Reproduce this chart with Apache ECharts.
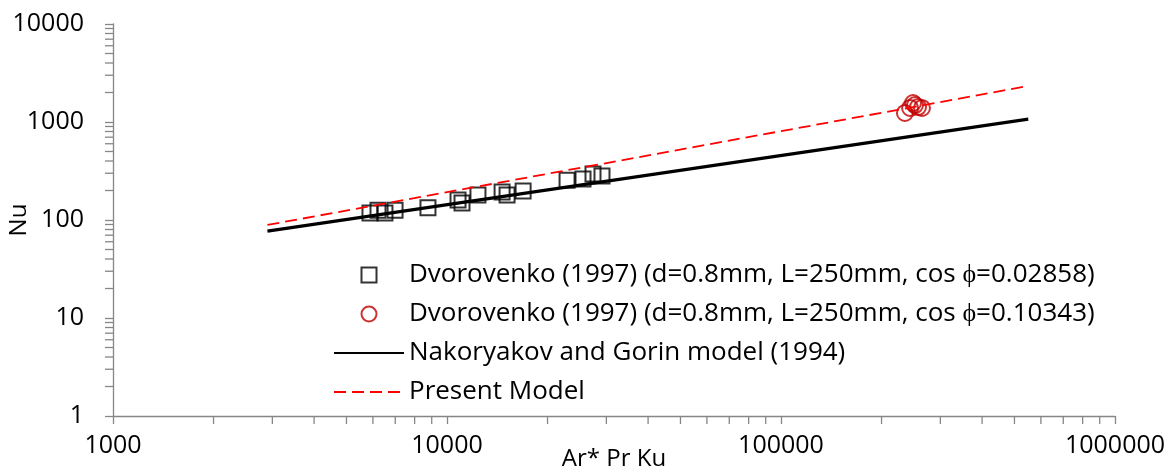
<!DOCTYPE html>
<html>
<head>
<meta charset="utf-8">
<script src="https://cdn.jsdelivr.net/npm/echarts@6/dist/echarts.min.js"></script>
<style>
    html, body { margin: 0; padding: 0; background: #fff; }
    #chart { width: 1172px; height: 472px; }
</style>
</head>
<body>
<div id="chart"></div>
<script>
    // Dvorovenko (1997), cos phi = 0.02858
    var squareX = [5880, 6215, 6520, 6990, 8770, 10790, 11090, 12380, 14620, 15130, 16900, 22880, 25540, 27360, 29110];
    var squareY = [118, 126, 118, 126, 133, 160, 149, 180, 193, 180, 198, 255, 262, 295, 281];
    // Dvorovenko (1997), cos phi = 0.10343
    var circleX = [235000, 243500, 248500, 251900, 257200, 264300];
    var circleY = [1236, 1390, 1563, 1490, 1421, 1390];
    // model lines
    var nakX = [2900, 550000];
    var nakY = [77, 1070];
    var presentX = [2900, 550000];
    var presentY = [89, 2330];
    // minor tick positions (log decades)
    var xMinorTicks = [2000, 3000, 4000, 5000, 6000, 7000, 8000, 9000,
        20000, 30000, 40000, 50000, 60000, 70000, 80000, 90000,
        200000, 300000, 400000, 500000, 600000, 700000, 800000, 900000];
    var yMinorTicks = [2, 3, 4, 5, 6, 7, 8, 9,
        20, 30, 40, 50, 60, 70, 80, 90,
        200, 300, 400, 500, 600, 700, 800, 900,
        2000, 3000, 4000, 5000, 6000, 7000, 8000, 9000];

    var names = [
        'Dvorovenko (1997) (d=0.8mm, L=250mm, cos \u03d5=0.02858)',
        'Dvorovenko (1997) (d=0.8mm, L=250mm, cos \u03d5=0.10343)',
        'Nakoryakov and Gorin model (1994)',
        'Present Model'
    ];

    function zip(xs, ys) {
        var out = [];
        for (var i = 0; i < xs.length; i++) out.push([xs[i], ys[i]]);
        return out;
    }

    function plain(v) {
        return String(Math.round(v));
    }

    var axisColor = '#868686';
    var tickLen = 8;

    var option = {
        animation: false,
        grid: { left: 113, right: 57, top: 24, bottom: 56, outerBoundsMode: 'none' },
        legend: {
            data: [
                { name: names[0], icon: 'path://M0,0L10,0L10,10L0,10Z' },
                { name: names[1], icon: 'circle' },
                { name: names[2], itemStyle: { opacity: 0 } },
                { name: names[3], itemStyle: { opacity: 0 } }
            ],
            orient: 'vertical',
            left: 333,
            top: 262,
            padding: 0,
            itemWidth: 70,
            itemHeight: 15,
            itemGap: 13,
            textStyle: { fontFamily: 'Open Sans', fontSize: 26, color: '#000' }
        },
        xAxis: {
            type: 'log',
            min: 1000,
            max: 1000000,
            logBase: 10,
            name: 'Ar* Pr Ku',
            nameLocation: 'middle',
            nameGap: 31,
            nameMoveOverlap: false,
            nameTextStyle: { fontFamily: 'Open Sans', fontSize: 24, color: '#000' },
            axisLine: { lineStyle: { color: axisColor, width: 1.3 } },
            axisTick: { length: tickLen, lineStyle: { color: axisColor, width: 1.3 } },
            axisLabel: { margin: 17, fontFamily: 'Open Sans', fontSize: 25, color: '#000', formatter: plain },
            splitLine: { show: false }
        },
        yAxis: {
            type: 'log',
            min: 1,
            max: 10000,
            logBase: 10,
            name: 'Nu',
            nameLocation: 'middle',
            nameGap: 82,
            nameMoveOverlap: false,
            nameTextStyle: { fontFamily: 'Open Sans', fontSize: 24, color: '#000' },
            axisLine: { lineStyle: { color: axisColor, width: 1.3 } },
            axisTick: { length: tickLen, lineStyle: { color: axisColor, width: 1.3 } },
            axisLabel: { margin: 29, fontFamily: 'Open Sans', fontSize: 25, color: '#000', formatter: plain },
            splitLine: { show: false }
        },
        series: [
            {
                type: 'custom',
                silent: true,
                clip: false,
                data: xMinorTicks.map(function (v) { return [v, 1]; }),
                renderItem: function (params, api) {
                    var p = api.coord([api.value(0), 1]);
                    return {
                        type: 'line',
                        shape: { x1: p[0], y1: p[1], x2: p[0], y2: p[1] + tickLen },
                        style: { stroke: axisColor, lineWidth: 1.3 }
                    };
                }
            },
            {
                type: 'custom',
                silent: true,
                clip: false,
                data: yMinorTicks.map(function (v) { return [1000, v]; }),
                renderItem: function (params, api) {
                    var p = api.coord([1000, api.value(1)]);
                    return {
                        type: 'line',
                        shape: { x1: p[0] - tickLen, y1: p[1], x2: p[0], y2: p[1] },
                        style: { stroke: axisColor, lineWidth: 1.3 }
                    };
                }
            },
            {
                name: names[0],
                type: 'scatter',
                symbol: 'rect',
                symbolSize: 15,
                itemStyle: { color: 'transparent', borderColor: '#000', borderWidth: 2 },
                data: zip(squareX, squareY)
            },
            {
                name: names[1],
                type: 'scatter',
                symbol: 'circle',
                symbolSize: 16,
                itemStyle: { color: 'transparent', borderColor: '#C00000', borderWidth: 2 },
                data: zip(circleX, circleY)
            },
            {
                name: names[2],
                type: 'line',
                symbol: 'none',
                lineStyle: { color: '#000', width: 3.2 },
                itemStyle: { color: '#000' },
                data: zip(nakX, nakY)
            },
            {
                name: names[3],
                type: 'line',
                symbol: 'none',
                lineStyle: { color: '#FF0000', width: 1.8, type: [12, 6] },
                itemStyle: { color: '#FF0000' },
                data: zip(presentX, presentY)
            }
        ]
    };

    var chart = echarts.init(document.getElementById('chart'));
    chart.setOption(option);
</script>
</body>
</html>
